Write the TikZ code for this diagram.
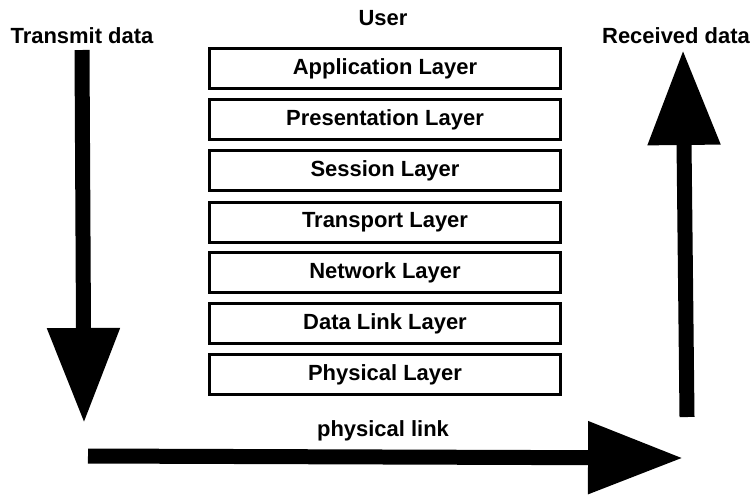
\documentclass[tikz,border=0pt]{standalone}
\usepackage{fontspec}
\setmainfont{Liberation Sans}
\usetikzlibrary{arrows.meta}

\tikzset{
  layer/.style = {draw, line width = 0.06cm, minimum width = 7.02cm, minimum height = 0.8cm, inner sep = 0pt},
  bigarrow/.style = {line width = 0.3cm, -{Triangle[length = 1.9cm, width = 1.38cm]}},
  lbl/.style = {font = \fontsize{12.5}{14}\selectfont\bfseries, inner sep = 0pt}
}

\begin{document}
\begin{tikzpicture}[x = 0.02cm, y = -0.02cm]
\useasboundingbox (0, 0) rectangle (753, 494);

\node[lbl] (user) at (383, 18) {User};
\node[lbl] (tx) at (82, 36) {Transmit data};
\node[lbl] (rx) at (676, 36) {Received data};
\node[lbl] (link) at (383, 431) {physical link};

\node[layer, lbl] (app) at (385, 68.5) {Application Layer};
\node[layer, lbl] (pres) at (385, 119.5) {Presentation Layer};
\node[layer, lbl] (sess) at (385, 170.5) {Session Layer};
\node[layer, lbl] (trans) at (385, 222) {Transport Layer};
\node[layer, lbl] (net) at (385, 272.5) {Network Layer};
\node[layer, lbl] (dl) at (385, 323.5) {Data Link Layer};
\node[layer, lbl] (phy) at (385, 374.5) {Physical Layer};

% block arrows
\coordinate (txtop) at (82, 50);
\coordinate (txtip) at (84, 423);
\coordinate (rxbot) at (687, 417);
\coordinate (rxtip) at (683, 50);
\coordinate (linkstart) at (88, 456);
\coordinate (linkend) at (683, 458);

\draw[bigarrow] (txtop) -- (txtip);
\draw[bigarrow] (rxbot) -- (rxtip);
\draw[bigarrow] (linkstart) -- (linkend);
\end{tikzpicture}
\end{document}
